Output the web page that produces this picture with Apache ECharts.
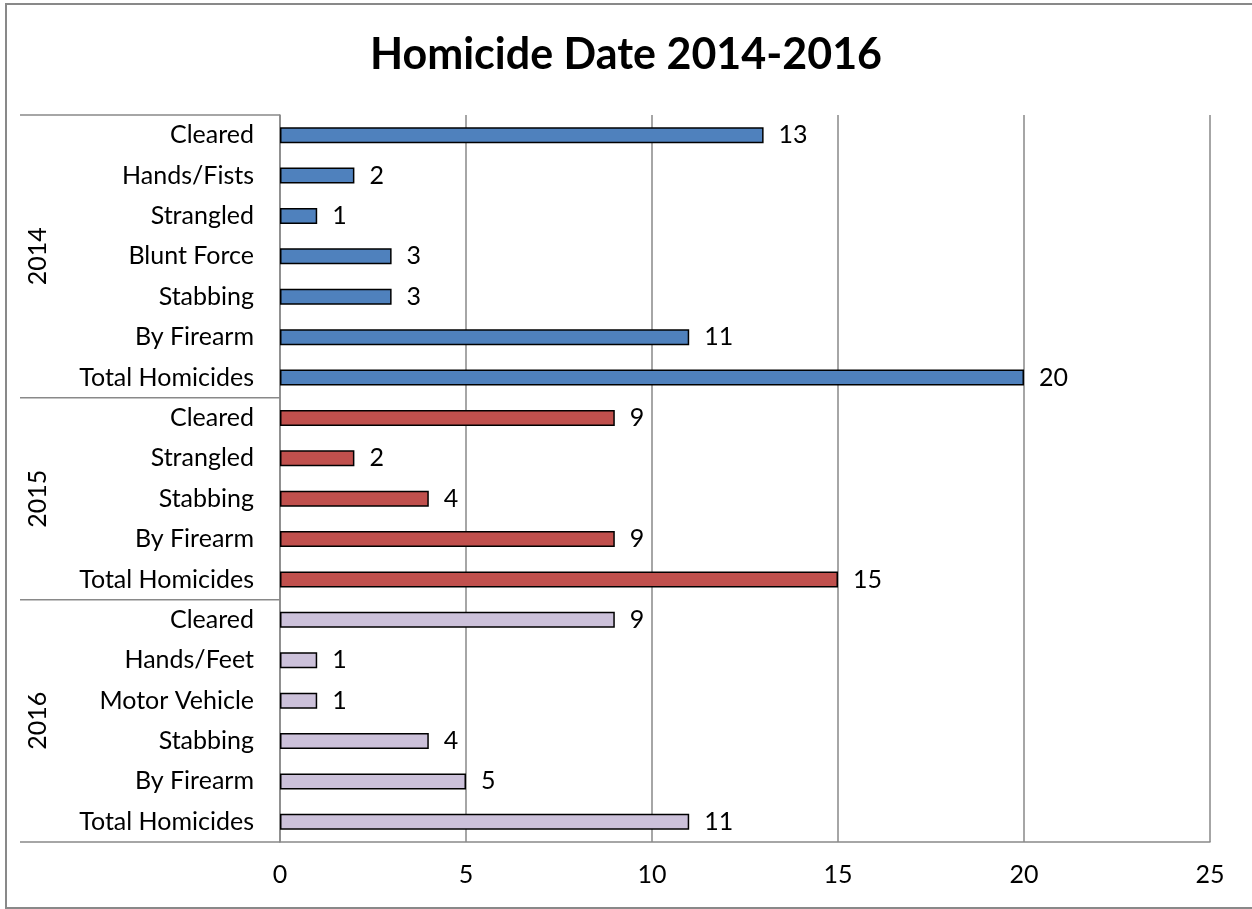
<!DOCTYPE html>
<html>
<head>
<meta charset="utf-8">
<script src="https://cdn.jsdelivr.net/npm/echarts@6/dist/echarts.min.js"></script>
<style>
html, body { margin: 0; padding: 0; background: #fff; }
#main { width: 1252px; height: 909px; }
</style>
</head>
<body>
<div id="main"></div>
<script>
// data
var years = ['2014', '2015', '2016'];
var cats2014 = ['Cleared', 'Hands/Fists', 'Strangled', 'Blunt Force', 'Stabbing', 'By Firearm', 'Total Homicides'];
var vals2014 = [13, 2, 1, 3, 3, 11, 20];
var cats2015 = ['Cleared', 'Strangled', 'Stabbing', 'By Firearm', 'Total Homicides'];
var vals2015 = [9, 2, 4, 9, 15];
var cats2016 = ['Cleared', 'Hands/Feet', 'Motor Vehicle', 'Stabbing', 'By Firearm', 'Total Homicides'];
var vals2016 = [9, 1, 1, 4, 5, 11];
var xTicks = [0, 5, 10, 15, 20, 25];

var colors = ['#4F81BD', '#C0504D', '#CCC1DA'];
var groups = [[cats2014, vals2014], [cats2015, vals2015], [cats2016, vals2016]];
var FONT = 'Lato';
var FS = 25;
var GRAY = '#898989';

var allCats = [];
groups.forEach(function (g) { allCats = allCats.concat(g[0]); });

// one series per year, '-' outside its own block
var series = [];
var offset = 0;
groups.forEach(function (g, gi) {
    var data = allCats.map(function () { return '-'; });
    g[1].forEach(function (v, i) { data[offset + i] = v; });
    series.push({
        name: years[gi],
        type: 'bar',
        stack: 'all',
        barWidth: 16,
        data: data,
        itemStyle: { color: colors[gi], borderColor: '#000', borderWidth: 1.5 },
        label: {
            show: true, position: 'right', distance: 15,
            color: '#000', fontFamily: FONT, fontSize: FS
        }
    });
    offset += g[0].length;
});

var myChart = echarts.init(document.getElementById('main'));
var option = {
    animation: false,
    backgroundColor: '#fff',
    title: {
        text: 'Homicide Date 2014-2016',
        left: 'center', top: 29,
        textStyle: { fontFamily: FONT, fontSize: 43, fontWeight: 'bold', color: '#000' }
    },
    grid: { left: 280, right: 42, top: 115, bottom: 67, containLabel: false },
    xAxis: {
        type: 'value', min: xTicks[0], max: xTicks[xTicks.length - 1], interval: 5,
        axisLine: { show: true, lineStyle: { color: GRAY, width: 1.5 } },
        axisTick: { show: false },
        axisLabel: { color: '#000', fontFamily: FONT, fontSize: FS, margin: 20 },
        splitLine: { show: true, lineStyle: { color: GRAY, width: 1.5 } }
    },
    yAxis: {
        type: 'category', inverse: true, data: allCats,
        axisLine: { show: true, lineStyle: { color: GRAY, width: 1.5 } },
        axisTick: { show: false },
        axisLabel: { color: '#000', fontFamily: FONT, fontSize: FS, margin: 26 }
    },
    series: series
};
myChart.setOption(option, true);

// year group labels and separators on the category axis
var c0 = myChart.convertToPixel({ yAxisIndex: 0 }, 0);
var c1 = myChart.convertToPixel({ yAxisIndex: 0 }, 1);
var band = c1 - c0;
var axisX = myChart.convertToPixel({ xAxisIndex: 0 }, 0);
var graphics = [{
    type: 'rect', silent: true,
    shape: { x: 6, y: 4, width: 1300, height: 904 },
    style: { fill: 'none', stroke: GRAY, lineWidth: 2 }
}];
var start = 0;
groups.forEach(function (g, gi) {
    var top = myChart.convertToPixel({ yAxisIndex: 0 }, start) - band / 2;
    var end = start + g[0].length - 1;
    var bottom = myChart.convertToPixel({ yAxisIndex: 0 }, end) + band / 2;
    graphics.push({
        type: 'line', silent: true,
        shape: { x1: 20, y1: top, x2: axisX, y2: top },
        style: { stroke: GRAY, lineWidth: 1.5 }
    });
    if (gi === groups.length - 1) {
        graphics.push({
            type: 'line', silent: true,
            shape: { x1: 20, y1: bottom, x2: axisX, y2: bottom },
            style: { stroke: GRAY, lineWidth: 1.5 }
        });
    }
    graphics.push({
        type: 'text', silent: true,
        x: 38, y: (top + bottom) / 2, rotation: Math.PI / 2,
        style: {
            text: years[gi], fill: '#000', font: FS + 'px ' + FONT,
            align: 'center', verticalAlign: 'middle'
        }
    });
    start = end + 1;
});
myChart.setOption({ graphic: graphics });
window.onresize = myChart.resize;
</script>
</body>
</html>
